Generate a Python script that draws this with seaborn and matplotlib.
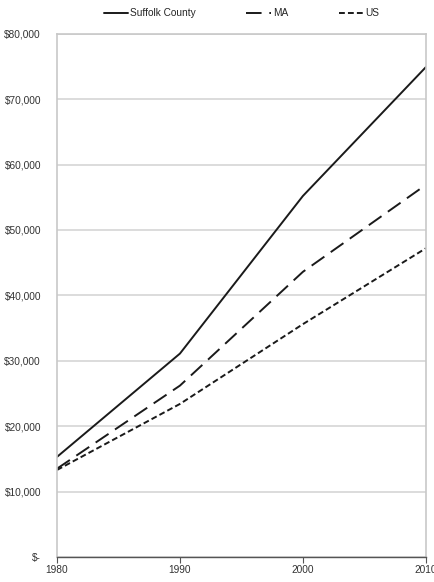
import seaborn as sns
import matplotlib.pyplot as plt
from matplotlib.ticker import FuncFormatter
import pandas as pd

# Dados
anos = [1980, 1990, 2000, 2010]
suffolk = [15300, 31100, 55200, 74900]
ma = [13500, 26200, 43600, 56900]
us = [13300, 23400, 35600, 47200]
series = ["Suffolk County", "MA", "US"]

df = pd.DataFrame({"Ano": anos * 3,
                   "Valor": suffolk + ma + us,
                   "Serie": [s for s in series for _ in anos]})

sns.set_style("white")
plt.rcParams['font.family'] = ['Liberation Sans', 'DejaVu Sans']

fig = plt.figure(figsize=(4.35, 5.82), dpi=100)
ax = fig.add_axes([0.131, 0.043, 0.848, 0.899])

estilos = {"Suffolk County": "", "MA": (8, 4), "US": (3, 1.6)}
sns.lineplot(data=df, x="Ano", y="Valor", hue="Serie", style="Serie",
             palette=["#1a1a1a"] * 3, dashes=estilos, linewidth=1.4, ax=ax)

ax.set_xlim(1980, 2010)
ax.set_ylim(0, 80000)
ax.set_xticks(anos)
ax.set_yticks(range(0, 80001, 10000))
ax.yaxis.set_major_formatter(FuncFormatter(lambda v, p: "$-" if v == 0 else f"${v:,.0f}"))
ax.grid(axis="y", color="#d9d9d9", linewidth=1.3)
ax.set_xlabel("")
ax.set_ylabel("")

for lado in ["left", "top", "right"]:
    ax.spines[lado].set_color("#c8c8c8")
    ax.spines[lado].set_linewidth(1.2)
ax.spines["bottom"].set_color("#555555")
ax.spines["bottom"].set_linewidth(1.0)
ax.tick_params(axis="x", bottom=True, length=4, color="#555555", labelsize=7.3, labelcolor="#333333", pad=2)
ax.tick_params(axis="y", left=False, labelsize=7.3, labelcolor="#333333", pad=8)
for t in ax.get_xticklabels():
    t.set_clip_on(False)

leg = ax.legend(loc="lower center", bbox_to_anchor=(0.5, 1.012), ncol=3, frameon=False,
                fontsize=7.3, handlelength=2.4, handletextpad=0.2, columnspacing=5.0)

fig.savefig("out.png", dpi=100)
